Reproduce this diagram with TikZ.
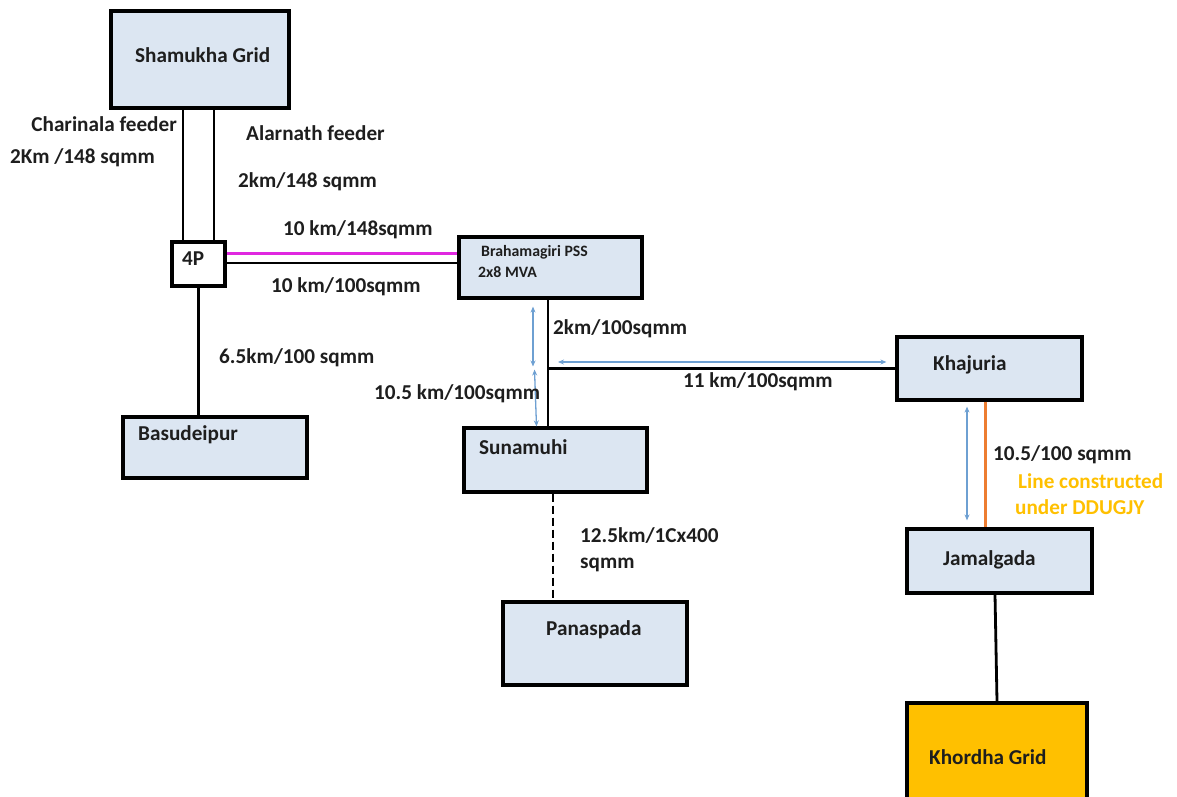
\documentclass[tikz,border=0pt]{standalone}
\usepackage{fontspec}
\setmainfont{Carlito}
\usepackage{xcolor}
\usepackage{tikz}
\usetikzlibrary{arrows.meta, positioning, calc}
\definecolor{boxblue}{RGB}{220,230,242}
\definecolor{gridgold}{RGB}{255,192,0}
\definecolor{linkmagenta}{RGB}{224,40,224}
\definecolor{arrowblue}{RGB}{110,160,210}
\definecolor{ddugorange}{RGB}{237,125,49}
\definecolor{inkgray}{RGB}{30,30,30}
\tikzset{
  station/.style={rectangle, draw=black, fill=boxblue, line width=3.2pt},
  gridbox/.style={station, fill=gridgold},
  junction/.style={station, fill=white},
  stationtext/.style={font=\fontsize{21.2}{25}\selectfont\bfseries, text=inkgray, inner sep=0pt, anchor=west},
  smalltext/.style={stationtext, font=\fontsize{15.8}{18}\selectfont\bfseries},
  lbl/.style={stationtext, align=left},
  feeder/.style={draw=black, line width=2.8pt},
  distarrow/.style={draw=arrowblue, line width=1.3pt,
    {Stealth[length=6pt,width=5pt]}-{Stealth[length=6pt,width=5pt]}}
}

\begin{document}
\begin{tikzpicture}[x=1pt, y=-1pt]
        \useasboundingbox (0,0) rectangle (1177,796);
        \clip (0,0) rectangle (1177,796);

        % stations
        \node[station, minimum width=178pt, minimum height=97pt] (shamukha) at (200,59.5) {};
        \node[junction, minimum width=53pt, minimum height=44pt] (fourp) at (198.5,264) {};
        \node[station, minimum width=184pt, minimum height=61pt] (basudeipur) at (215,447.5) {};
        \node[station, minimum width=183pt, minimum height=61pt] (brahamagiri) at (550.5,267.5) {};
        \node[station, minimum width=183pt, minimum height=64pt] (sunamuhi) at (555.5,460) {};
        \node[station, minimum width=184pt, minimum height=83pt] (panaspada) at (595,643.5) {};
        \node[station, minimum width=185pt, minimum height=63pt] (khajuria) at (989.5,368.5) {};
        \node[station, minimum width=185pt, minimum height=64pt] (jamalgada) at (999.5,561) {};
        \node[gridbox, minimum width=180pt, minimum height=110pt] (khordha) at (997,758) {};

        \node[stationtext] (shamukha-t) at (135,55) {Shamukha Grid};
        \node[stationtext] (fourp-t) at (182,259) {4P};
        \node[stationtext] (basudeipur-t) at (138,435) {Basudeipur};
        \node[smalltext] (brahamagiri-t) at (481,252) {Brahamagiri PSS};
        \node[smalltext] (brahamagiri-m) at (478,272) {2x8 MVA};
        \node[stationtext] (sunamuhi-t) at (479,447) {Sunamuhi};
        \node[stationtext] (panaspada-t) at (546,630) {Panaspada};
        \node[stationtext] (khajuria-t) at (933,365) {Khajuria};
        \node[stationtext] (jamalgada-t) at (943,560) {Jamalgada};
        \node[stationtext] (khordha-t) at (929,757) {Khordha Grid};

        % lines
        \coordinate (tee) at ([xshift=-2.5pt]brahamagiri.south);
        \draw[feeder] ([xshift=-15.5pt]fourp.north) -- ([xshift=-15.5pt]fourp.north |- shamukha.south);
        \draw[feeder] ([xshift=15.5pt]fourp.north) -- ([xshift=15.5pt]fourp.north |- shamukha.south);
        \draw[draw=linkmagenta, line width=3pt] ([yshift=11pt]fourp.east) -- ([yshift=11pt]fourp.east -| brahamagiri.west);
        \draw[feeder] ([yshift=1pt]fourp.east) -- ([yshift=1pt]fourp.east -| brahamagiri.west);
        \draw[feeder] (fourp.south) -- (fourp.south |- basudeipur.north);
        \draw[feeder] (tee) -- (tee |- sunamuhi.north);
        \draw[feeder] (khajuria.west) -- (khajuria.west -| tee);
        \draw[feeder, dashed, dash pattern=on 8pt off 4pt] ([xshift=-2.5pt]sunamuhi.south) -- ([xshift=-2.5pt]sunamuhi.south |- panaspada.north);
        \draw[draw=ddugorange, line width=3pt] ([xshift=-4.5pt]khajuria.south) -- ([xshift=-4.5pt]khajuria.south |- jamalgada.north);
        \draw[feeder] ([xshift=-4.5pt]jamalgada.south) -- (khordha.north);

        % distance arrows
        \coordinate (upper-top) at ([xshift=-15pt,yshift=-7pt]tee);
        \coordinate (upper-bot) at ($(upper-top |- khajuria.west)+(0,-2)$);
        \coordinate (lower-top) at ($(upper-bot)+(1.5,3)$);
        \coordinate (lower-bot) at ([xshift=-19pt]sunamuhi.north);
        \draw[distarrow] (upper-top) -- (upper-bot);
        \draw[distarrow] (lower-top) -- (lower-bot);
        \coordinate (span-right) at ([xshift=-9pt,yshift=6.5pt]khajuria.west);
        \coordinate (span-left) at ([xshift=10pt]span-right -| tee);
        \draw[distarrow] (span-left) -- (span-right);
        \coordinate (ddu-top) at ([xshift=-22.5pt,yshift=-5pt]khajuria.south);
        \coordinate (ddu-bot) at ([yshift=7pt]ddu-top |- jamalgada.north);
        \draw[distarrow] (ddu-top) -- (ddu-bot);

        % labels
        \node[stationtext, anchor=east] (charinala) at (177,124) {Charinala feeder};
        \node[stationtext] (charinala-d) at (10,158) {2Km /148 sqmm};
        \node[stationtext] (alarnath) at (246,133) {Alarnath feeder};
        \node[stationtext] (alarnath-d) at (238,182) {2km/148 sqmm};
        \node[stationtext] (link-a) at (283,230) {10 km/148sqmm};
        \node[stationtext] (link-b) at (271,287) {10 km/100sqmm};
        \node[stationtext] (basu-d) at (219,358) {6.5km/100 sqmm};
        \node[stationtext] (brahma-d) at (553,329) {2km/100sqmm};
        \node[stationtext] (khaj-d) at (683,382) {11 km/100sqmm};
        \node[stationtext] (suna-d) at (374,394) {10.5 km/100sqmm};
        \node[stationtext] (jamal-d) at (993,455) {10.5/100 sqmm};
        \node[lbl, text=gridgold] (ddugjy) at (1015,494) {\hspace*{3pt}Line constructed\\[1pt]under DDUGJY};
        \node[lbl] (pana-d) at (580,550) {12.5km/1Cx400\\[1pt]sqmm};
      \end{tikzpicture}
\end{document}
